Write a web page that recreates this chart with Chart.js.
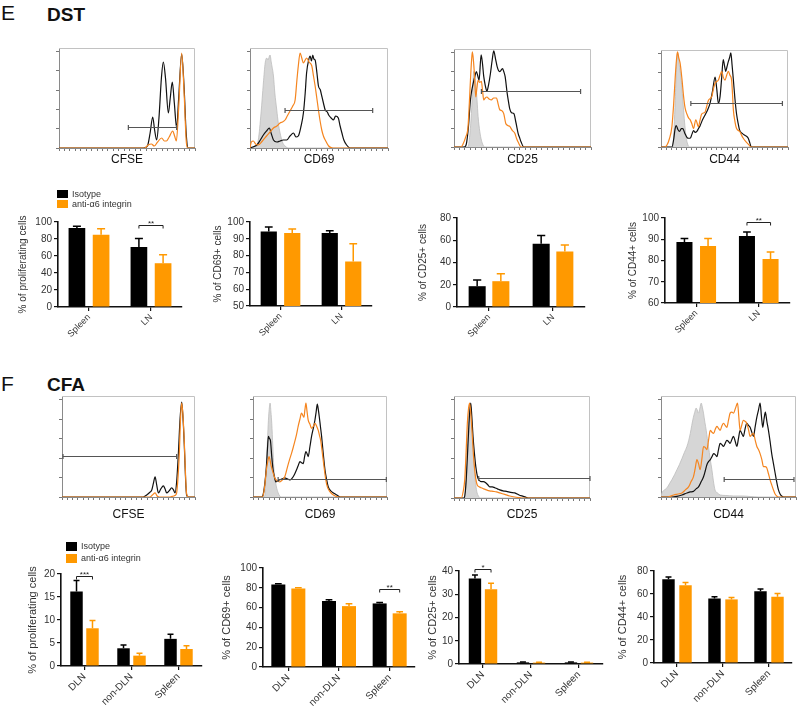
<!DOCTYPE html>
<html>
<head>
<meta charset="utf-8">
<title>DST / CFA</title>
<script src="https://cdn.jsdelivr.net/npm/chart.js@4.4.1/dist/chart.umd.min.js"></script>
<style>
  body { margin: 0; background: #fff; }
  #fig { position: relative; width: 800px; height: 707px; overflow: hidden; font-family: "Liberation Sans", Arial, sans-serif; color: #111; }
  #fig canvas, .txt, .key { position: absolute; }
  .txt { line-height: 1; white-space: nowrap; }
  .panel { font-size: 21px; }
  .model { font-size: 19px; font-weight: bold; }
  .keylab { font-size: 9px; color: #333; }
</style>
</head>
<body>
<div id="fig">
  <div class="txt panel" style="left:1px;top:2px">E</div>
  <div class="txt model" style="left:47px;top:5px">DST</div>
  <div class="txt panel" style="left:1px;top:373px">F</div>
  <div class="txt model" style="left:47px;top:375px">CFA</div>
</div>
<script>
// ---- histogram traces, [channel position, % of max] ----
// DST
const dstCfseIso = [[0,0],[62,0],[65,2],[67,15],[68.9,31],[70.3,18],[71.8,8],[73.5,30],[75.3,70],[76.7,86],[78.3,70],[80.4,35],[81.8,50],[83.3,66],[84.8,45],[86.5,20],[88,50],[90.2,94],[92,60],[93.5,15],[95,0],[100,0]];
const dstCfseAnti = [[0,0],[63,0],[65.5,3],[68,4],[70,2],[72.5,6],[75.5,10],[77.5,7],[79,7],[81,11],[83.6,17],[85,12],[86.3,7],[88,40],[90.2,95],[92,55],[93.5,8],[94.5,0],[100,0]];
const dstCfseGate = [51, 86.5, 20.7];

const dstCd69Ctrl = [[0,0],[3.6,0],[6,8],[8,35],[9.7,65],[11,85],[12.1,90],[13,88],[14.5,93],[15.5,85],[17,72],[18,55],[19.4,38],[20.5,25],[21.8,15],[23.5,6],[25.4,2],[28,0],[100,0]];
const dstCd69Iso = [[0,0],[2,1],[5,3],[7.5,8],[9.7,13],[12,17],[14,20],[15.5,14],[17,8],[19.5,6],[21.8,7],[24,8],[26.6,8],[29,12],[31.5,15],[33.3,11],[35,12],[37,22],[38.7,35],[40,55],[41,75],[42.5,88],[43.6,92],[44.5,87],[45.5,93],[46.3,89],[47.2,88],[48.5,75],[49.6,62],[51,58],[52,52],[53.2,45],[54.5,38],[56,36],[57,33],[58.8,30],[60.5,28],[62,32],[64,30],[65.3,22],[66.6,15],[68,8],[70,3],[72.6,0],[100,0]];
const dstCd69Anti = [[0,0],[1,6],[2.4,7],[4,4],[6,3],[9,7],[12,12],[14.5,16],[17,20],[19.5,22],[21.8,25],[23.5,26],[25.4,28],[27,32],[29,37],[31,42],[32.7,48],[34,68],[35,82],[36.3,95],[37.5,90],[38.7,85],[40,88],[41,90],[42.8,86],[44.8,82],[46,72],[47.2,62],[48.4,50],[49.6,38],[50.8,27],[52,18],[53.2,12],[54.5,8],[57,2],[60,0],[100,0]];
const dstCd69Gate = [25.4, 88.9, 38.3];

const dstCd25Ctrl = [[0,0],[10.2,0],[11.5,12],[12.7,34],[13.6,60],[14.4,77],[15.2,74],[15.9,65],[16.8,48],[17.6,31],[18.8,16],[20,7],[21.2,2],[22.4,0],[100,0]];
const dstCd25Iso = [[0,0],[7.5,0],[9,3],[10.5,20],[12,48],[13,58],[14,65],[15.2,72],[16.3,77],[17.3,73],[18.3,68],[19.8,94],[20.8,85],[21.7,72],[22.8,63],[24,57],[25.3,64],[26.6,75],[27.8,88],[29,98],[30.3,90],[31.5,82],[32.5,78],[33.4,77],[35.4,80],[36.3,77],[37.3,72],[38.8,55],[39.8,46],[40.7,39],[42,35],[43.7,34],[45.2,25],[46.8,14],[48,9],[49,5],[51,0],[100,0]];
const dstCd25Anti = [[0,0],[5,0],[6.6,3],[8.5,10],[10.2,20],[11.2,45],[12,68],[12.8,88],[13.4,97],[14.2,88],[15,72],[15.9,51],[16.7,60],[17.6,68],[18.8,66],[20,67],[20.8,58],[21.7,48],[22.8,50],[24,51],[25.6,49],[27.3,48],[29,50],[31,50],[32.2,44],[33.4,38],[35,37],[36.3,34],[37.8,24],[39.2,22],[40.7,21],[42.5,17],[44.4,14],[45.6,9],[46.8,5],[49,0],[100,0]];
const dstCd25Gate = [20, 92.4, 57.5];

const dstCd44Ctrl = [[0,0],[9.4,0],[10.3,20],[11.2,48],[12.1,80],[13,97],[14.3,85],[15.7,72],[16.8,55],[17.8,38],[18.8,22],[19.8,10],[21,3],[22.5,0],[100,0]];
const dstCd44Iso = [[0,0],[8.6,0],[10,8],[11,18],[12,22],[13.3,18],[14.6,16],[16,19],[17.2,19],[18.8,14],[20.4,10],[21.7,9],[23,9],[24.3,13],[25.6,17],[26.9,15],[28.2,16],[29.5,19],[30.8,22],[32.7,28],[34.7,33],[36.6,38],[38.6,45],[40.6,58],[42.6,72],[43.9,60],[45.2,45],[46.5,52],[47.7,70],[49,90],[50,84],[51,78],[52,83],[53,88],[54,92],[55,97],[56,84],[57,69],[58.2,50],[59.5,34],[60.8,24],[62,17],[64,14],[66,12],[67.4,11],[68.7,9],[70,4],[71,0],[100,0]];
const dstCd44Anti = [[0,0],[3,0],[4.7,2],[6.5,8],[8.6,21],[10,45],[11.2,72],[12.2,90],[13,98],[14,92],[15.1,86],[16.5,70],[17.8,52],[19,40],[20.4,34],[21.7,30],[23,28],[24.3,24],[25.6,19],[27.4,28],[29.5,21],[30.8,28],[32,34],[34.7,36],[36,42],[37.3,48],[40,52],[41.3,60],[42.6,66],[45.2,69],[46.5,74],[47.8,78],[49,72],[50.4,69],[51.7,74],[53,78],[54.3,74],[55.6,69],[56.3,55],[57,38],[58,28],[59.5,19],[62,16],[63.5,12],[64.8,9],[66.5,6],[68.7,3],[71,0],[100,0]];
const dstCd44Gate = [23.5, 95.6, 45.5];

// CFA
const cfaCfseIso = [[0,0],[61,0],[63.7,2],[65.5,4],[67.5,7],[68.8,14],[70,20],[71.2,12],[72.5,4],[74.3,8],[76.2,11],[77.5,8],[78.7,4],[80.5,6],[82.5,9],[83.8,7],[85,4],[86.2,15],[87.5,43],[88.8,78],[90,94],[91,78],[92,50],[93,15],[93.7,2],[95,0],[100,0]];
const cfaCfseAnti = [[0,0],[66,0],[68,2],[70,4],[71.5,1],[73,0],[81,0],[84,1],[86,3],[87,15],[88.2,43],[89.2,80],[90,93],[91,80],[92,53],[93,18],[93.7,3],[95,0],[100,0]];
const cfaCfseGate = [0.75, 86.2, 41];

const cfaCd69Ctrl = [[0,0],[8,0],[8.75,1],[9.4,15],[10,33],[10.8,56],[11.5,76],[12.1,87],[12.75,93],[13.4,84],[14,73],[14.8,50],[15.5,30],[16.5,18],[17.5,10],[18.8,4],[20,1],[21,0],[100,0]];
const cfaCd69Iso = [[0,0],[6.5,0],[7.5,2],[8.7,12],[10,30],[10.8,48],[11.5,60],[12.2,58],[13,56],[14,40],[15,27],[16,20],[17,15],[18.5,16],[20,17],[21.8,18],[23.7,19],[25.6,18],[27.5,17],[28.8,18],[30,20],[31.2,23],[32.5,27],[33.7,31],[35,35],[36.2,34],[37.5,33],[38.5,40],[39.5,45],[40.3,43],[41.2,40],[42.5,50],[43.7,60],[45,68],[46.2,76],[47.1,84],[48,92],[48.8,86],[49.5,79],[50.3,70],[51.2,60],[52.5,42],[53.7,27],[55,17],[56.2,10],[58,6],[60,4],[62.5,2],[65,0],[100,0]];
const cfaCd69Anti = [[0,0],[7,0],[8.5,8],[9.3,18],[10,27],[11,35],[12,40],[12.8,36],[13.7,30],[15,24],[16.2,19],[18,16],[20,15],[22,17],[23.7,20],[25,26],[26.2,32],[27.5,38],[28.7,43],[30,49],[31.2,55],[32.5,62],[33.7,70],[35,77],[36.2,83],[37.1,81],[38,79],[38.8,87],[39.5,93],[40.3,85],[41.2,76],[42.5,72],[43.7,68],[45,70],[46.2,73],[47.5,70],[48.7,66],[49.6,61],[50.5,56],[51.8,43],[53,30],[54.2,18],[55.5,10],[57.5,5],[60,2],[64,0],[100,0]];
const cfaCd69Gate = [18.75, 99.5, 17.7];

const cfaCd25Ctrl = [[0,0],[8,0],[8.5,12],[9,34],[10,60],[10.8,83],[11.8,93],[12.6,82],[13.5,67],[14.3,45],[15.2,24],[16,13],[17,5],[18,2],[19,0],[100,0]];
const cfaCd25Iso = [[0,0],[7.5,0],[8.3,6],[9,18],[9.9,42],[10.8,67],[11.6,85],[12.3,93],[13.1,80],[14,60],[15,44],[16,31],[16.8,24],[17.7,19],[18.8,17],[20,16],[21.6,16],[23.3,15],[24.8,13],[26.3,11],[28.2,11],[30,10],[31.9,9],[33.7,8],[36.1,7],[38.6,6.5],[41.6,5.5],[44.7,5],[47.8,3],[50.9,1.6],[52.7,0.8],[54.5,0],[100,0]];
const cfaCd25Anti = [[0,0],[5.4,0],[6.7,6],[7.9,18],[8.9,45],[9.8,73],[10.7,88],[11.5,93],[12.5,80],[13.5,60],[14.3,42],[15.2,28],[16,19],[17,13],[18.5,11],[20,10],[21.9,9],[23.8,8],[26.2,7],[28.7,6.5],[31.2,6],[33.7,5],[37.3,3.5],[41,2],[44.7,1],[48.4,0.3],[50,0],[100,0]];
const cfaCd25Gate = [18.2, 100, 19.8];

const cfaCd44Ctrl = [[0,0],[0.7,4],[2.5,7],[4.4,9],[6.2,13],[8,17],[10,22],[11.8,27],[13.6,32],[15.5,38],[17.3,44],[19.2,50],[20.5,56],[21.7,63],[22.8,71],[24,79],[25,84],[26,88],[26.9,86],[27.8,83],[28.8,88],[29.8,93],[30.6,89],[31.5,83],[32.5,74],[33.5,66],[34.3,58],[35.2,50],[36.4,38],[37.7,27],[38.8,16],[40,7],[41.9,4],[43.8,2],[48,1.5],[53.7,1],[60,1],[66,0.5],[72,0],[100,0]];
const cfaCd44Iso = [[0,0],[8,0],[11.8,0.7],[15.5,2],[19.2,4],[21.6,5],[24,5.6],[26,8],[27.8,10],[29.7,15],[31.5,20],[32.8,26],[34,32],[35.2,35],[36.5,37],[37.8,40],[39,43],[40.2,42],[41.4,40],[42.6,47],[43.8,53],[45,52],[46.3,50],[47.5,53],[48.8,56],[50,55],[51.2,53],[52.5,57],[53.7,60],[55,55],[56.2,50],[57.4,58],[58.6,66],[59.8,63],[61,60],[62.2,67],[63.5,73],[64.8,71],[66,69],[67.3,64],[68.5,60],[69.8,70],[71,79],[72.2,86],[73.4,93],[74.4,80],[75.4,69],[76.3,77],[77.3,84],[78.4,75],[79.6,66],[80.8,55],[82,43],[83.3,33],[84.5,24],[85.7,15],[87,7],[88.2,3],[89.4,1],[91,0],[100,0]];
const cfaCd44Anti = [[0,0],[5,0],[9.4,2],[12.5,3],[15.5,4],[18,7],[20.4,10],[22.2,15],[24,20],[25.3,28],[26.6,37],[27.8,33],[29,27],[30.3,38],[31.5,50],[32.8,49],[34,47],[35.2,56],[36.5,66],[37.8,64],[39,63],[40.2,67],[41.4,70],[42.6,68],[43.8,66],[45,70],[46.3,73],[47.5,71],[48.8,69],[50,76],[51.2,83],[52.5,84],[53.7,83],[55.2,88],[56.7,93],[57.6,80],[58.6,66],[59.8,71],[61,76],[62.2,75],[63.5,73],[64.8,67],[66,60],[67.3,62],[68.5,63],[69.8,56],[71,50],[72.2,47],[73.4,43],[74.7,37],[75.9,30],[77.1,30],[78.3,29],[79.6,23],[80.8,17],[82,12],[83.3,7],[84.5,3],[85.7,1],[87,0],[100,0]];
const cfaCd44Gate = [46.8, 98.5, 17.7];

// ---- bar data (mean and SEM) ----
const dstSites = ['Spleen', 'LN'];
const cfaSites = ['DLN', 'non-DLN', 'Spleen'];

const dstProlifIsoMean = [93, 70.5],   dstProlifIsoSem = [2, 10];
const dstProlifAntiMean = [85, 51.5],  dstProlifAntiSem = [7, 10];
const dstCd69IsoMean = [94.4, 93.4],   dstCd69IsoSem = [2.6, 1.4];
const dstCd69AntiMean = [93.4, 76.5],  dstCd69AntiSem = [2.4, 10.5];
const dstCd25IsoMean = [18.7, 56.8],   dstCd25IsoSem = [5.5, 7.5];
const dstCd25AntiMean = [23.2, 49.8],  dstCd25AntiSem = [6.7, 6];
const dstCd44IsoMean = [88.7, 91.5],   dstCd44IsoSem = [1.6, 1.9];
const dstCd44AntiMean = [86.8, 80.7],  dstCd44AntiSem = [3.5, 3.3];

const cfaProlifIsoMean = [16.2, 3.85, 5.9],  cfaProlifIsoSem = [2.4, 0.7, 1];
const cfaProlifAntiMean = [8.2, 2.25, 3.7],  cfaProlifAntiSem = [1.7, 0.5, 0.7];
const cfaCd69IsoMean = [83.3, 66.6, 64.2],   cfaCd69IsoSem = [0.7, 1.3, 1];
const cfaCd69AntiMean = [79.3, 61.5, 54.2],  cfaCd69AntiSem = [0.7, 2.4, 1.7];
const cfaCd25IsoMean = [36.8, 0.7, 0.7],     cfaCd25IsoSem = [1.5, 0.2, 0.2];
const cfaCd25AntiMean = [32.1, 0.6, 0.6],    cfaCd25AntiSem = [2.6, 0.2, 0.2];
const cfaCd44IsoMean = [72.8, 56.1, 62.4],   cfaCd44IsoSem = [2, 1.5, 2];
const cfaCd44AntiMean = [67.6, 55.3, 57.6],  cfaCd44AntiSem = [2.3, 1.7, 2.8];

const ORANGE = '#FF9900';
const ORANGE_LINE = '#F5851F';
const FONT = '"Liberation Sans", Arial, Helvetica, sans-serif';
Chart.defaults.font.family = FONT;

const fig = document.getElementById('fig');

function addCanvas(left, top, width, height) {
  const c = document.createElement('canvas');
  c.width = width;
  c.height = height;
  c.style.left = left + 'px';
  c.style.top = top + 'px';
  c.style.width = width + 'px';
  c.style.height = height + 'px';
  fig.appendChild(c);
  return c;
}

// light frame on top/right of the histogram plot
const boxFrame = {
  id: 'boxFrame',
  beforeDatasetsDraw(chart) {
    const { ctx, chartArea: a } = chart;
    ctx.save();
    ctx.strokeStyle = '#c2c2c2';
    ctx.lineWidth = 1;
    ctx.beginPath();
    ctx.moveTo(a.left, a.top + 0.5);
    ctx.lineTo(a.right - 0.5, a.top + 0.5);
    ctx.lineTo(a.right - 0.5, a.bottom);
    ctx.stroke();
    ctx.restore();
  }
};

// gate marker: [from, to, height]
function gateBar(span) {
  return {
    id: 'gateBar',
    afterDatasetsDraw(chart) {
      const { ctx, scales: { x, y } } = chart;
      const x0 = x.getPixelForValue(span[0]);
      const x1 = x.getPixelForValue(span[1]);
      const yy = Math.round(y.getPixelForValue(span[2])) + 0.5;
      ctx.save();
      ctx.strokeStyle = '#555';
      ctx.lineWidth = 1.2;
      ctx.beginPath();
      ctx.moveTo(x0, yy); ctx.lineTo(x1, yy);
      ctx.moveTo(x0, yy - 2.5); ctx.lineTo(x0, yy + 2.5);
      ctx.moveTo(x1, yy - 2.5); ctx.lineTo(x1, yy + 2.5);
      ctx.stroke();
      ctx.restore();
    }
  };
}

function histogram(h) {
  const padL = 4, padT = 3, padR = 3, xH = h.gap + 7;
  const [bx, by, bw, bh] = h.box;
  const canvas = addCanvas(bx - padL, by - padT, bw + padL + padR, bh + padT + xH);
  const datasets = [
    { data: h.anti, borderColor: ORANGE_LINE, borderWidth: 1.2 },
    { data: h.iso, borderColor: '#111', borderWidth: 1.2 }
  ];
  if (h.ctrl) {
    datasets.push({ data: h.ctrl, borderColor: '#bdbdbd', backgroundColor: '#d6d6d6', borderWidth: 0.8, fill: 'origin' });
  }
  new Chart(canvas, {
    type: 'line',
    data: { datasets },
    options: {
      responsive: false,
      animation: false,
      devicePixelRatio: 1,
      layout: { padding: { top: padT, right: padR, left: 0, bottom: 0 } },
      elements: { point: { radius: 0 }, line: { cubicInterpolationMode: 'monotone' } },
      plugins: { legend: { display: false }, tooltip: { enabled: false } },
      scales: {
        x: {
          type: 'linear', min: 0, max: 100,
          ticks: { display: false, stepSize: 4, includeBounds: false },
          grid: { drawOnChartArea: false, tickLength: 3, color: '#777' },
          border: { color: '#8a8a8a' },
          title: { display: true, text: h.label, font: { size: 12 }, color: '#111', padding: 0 },
          afterFit: (s) => { s.height = xH; }
        },
        y: {
          min: 0, max: 100,
          ticks: { display: false, stepSize: 19.3, includeBounds: false },
          grid: { drawOnChartArea: false, tickLength: 3, color: '#777' },
          border: { color: '#8a8a8a' },
          afterFit: (s) => { s.width = padL; }
        }
      }
    },
    plugins: [boxFrame, gateBar(h.gate)]
  });
}

// SEM whiskers (upward only)
const errorBars = {
  id: 'errorBars',
  afterDatasetsDraw(chart) {
    const { ctx } = chart;
    const yScale = chart.scales.y;
    chart.data.datasets.forEach((ds, i) => {
      chart.getDatasetMeta(i).data.forEach((bar, j) => {
        const top = yScale.getPixelForValue(ds.data[j] + ds.errors[j]);
        const half = bar.width * 0.24;
        ctx.save();
        ctx.strokeStyle = ds.backgroundColor;
        ctx.lineWidth = 1.5;
        ctx.beginPath();
        ctx.moveTo(bar.x, bar.y);
        ctx.lineTo(bar.x, top);
        ctx.moveTo(bar.x - half, top);
        ctx.lineTo(bar.x + half, top);
        ctx.stroke();
        ctx.restore();
      });
    });
  }
};

// significance bracket over one group
function sigBracket(s) {
  return {
    id: 'sigBracket',
    afterDatasetsDraw(chart) {
      const { ctx } = chart;
      const a = chart.getDatasetMeta(0).data[s.at];
      const b = chart.getDatasetMeta(1).data[s.at];
      const y = Math.round(chart.scales.y.getPixelForValue(s.value)) + 0.5;
      ctx.save();
      ctx.strokeStyle = '#222';
      ctx.lineWidth = 1;
      ctx.beginPath();
      ctx.moveTo(a.x, y + 3); ctx.lineTo(a.x, y); ctx.lineTo(b.x, y); ctx.lineTo(b.x, y + 3);
      ctx.stroke();
      ctx.fillStyle = '#222';
      ctx.font = '8px ' + FONT;
      ctx.textAlign = 'center';
      ctx.textBaseline = 'alphabetic';
      ctx.fillText(s.text, (a.x + b.x) / 2, y + 0.5);
      ctx.restore();
    }
  };
}

function barPanel(p) {
  const padT = 16, padR = 4, xH = 48;
  const W = Math.round(p.titleGap + 0.6 * p.titleSize);
  const canvas = addCanvas(p.axisX - W, p.top - padT, W + (p.right - p.axisX) + padR, padT + (p.bottom - p.top) + xH);
  new Chart(canvas, {
    type: 'bar',
    data: {
      labels: p.labels,
      datasets: [
        { label: 'Isotype', data: p.iso, errors: p.isoErr, backgroundColor: '#000' },
        { label: 'anti-α6 integrin', data: p.anti, errors: p.antiErr, backgroundColor: ORANGE }
      ]
    },
    options: {
      responsive: false,
      animation: false,
      devicePixelRatio: 1,
      layout: { padding: { top: padT, right: padR, left: 0, bottom: 0 } },
      datasets: { bar: { categoryPercentage: p.cat, barPercentage: p.bar } },
      plugins: { legend: { display: false }, tooltip: { enabled: false } },
      scales: {
        x: {
          grid: { drawOnChartArea: false, offset: false, tickLength: 4, color: '#111', lineWidth: 1.2 },
          border: { color: '#111', width: 1.6 },
          ticks: { font: { size: p.catSize }, color: '#333', minRotation: 45, maxRotation: 45, padding: 1, autoSkip: false },
          afterFit: (s) => { s.height = xH; }
        },
        y: {
          min: p.min, max: p.max,
          ticks: { stepSize: p.step, font: { size: 10 }, color: '#333', padding: 2 },
          grid: { drawOnChartArea: false, tickLength: 4, color: '#111', lineWidth: 1.2 },
          border: { color: '#111', width: 1.6 },
          title: { display: true, text: p.title, font: { size: p.titleSize }, color: '#333', padding: 0 },
          afterFit: (s) => { s.width = W; }
        }
      }
    },
    plugins: p.sig ? [errorBars, sigBracket(p.sig)] : [errorBars]
  });
}

// ---- E: DST ----
histogram({ box: [59, 48, 136, 100], gap: 12, label: 'CFSE', iso: dstCfseIso, anti: dstCfseAnti, gate: dstCfseGate });
histogram({ box: [250, 48, 138, 100], gap: 12, label: 'CD69', iso: dstCd69Iso, anti: dstCd69Anti, ctrl: dstCd69Ctrl, gate: dstCd69Gate });
histogram({ box: [454, 49, 137, 98], gap: 13, label: 'CD25', iso: dstCd25Iso, anti: dstCd25Anti, ctrl: dstCd25Ctrl, gate: dstCd25Gate });
histogram({ box: [661, 50, 127, 97], gap: 13, label: 'CD44', iso: dstCd44Iso, anti: dstCd44Anti, ctrl: dstCd44Ctrl, gate: dstCd44Gate });

barPanel({ axisX: 58, top: 222, bottom: 307, right: 182, titleGap: 35, titleSize: 10, catSize: 9, cat: 0.78, bar: 0.69,
  labels: dstSites, iso: dstProlifIsoMean, isoErr: dstProlifIsoSem, anti: dstProlifAntiMean, antiErr: dstProlifAntiSem,
  min: 0, max: 100, step: 20, title: '% of proliferating cells', sig: { at: 1, value: 96, text: '**' } });
barPanel({ axisX: 250, top: 222, bottom: 306, right: 372, titleGap: 32, titleSize: 10, catSize: 9, cat: 0.77, bar: 0.69,
  labels: dstSites, iso: dstCd69IsoMean, isoErr: dstCd69IsoSem, anti: dstCd69AntiMean, antiErr: dstCd69AntiSem,
  min: 50, max: 100, step: 10, title: '% of CD69+ cells' });
barPanel({ axisX: 457, top: 218, bottom: 307, right: 585, titleGap: 34, titleSize: 10, catSize: 9, cat: 0.74, bar: 0.72,
  labels: dstSites, iso: dstCd25IsoMean, isoErr: dstCd25IsoSem, anti: dstCd25AntiMean, antiErr: dstCd25AntiSem,
  min: 0, max: 80, step: 20, title: '% of CD25+ cells' });
barPanel({ axisX: 665, top: 218, bottom: 303, right: 790, titleGap: 32, titleSize: 10, catSize: 9, cat: 0.755, bar: 0.68,
  labels: dstSites, iso: dstCd44IsoMean, isoErr: dstCd44IsoSem, anti: dstCd44AntiMean, antiErr: dstCd44AntiSem,
  min: 60, max: 100, step: 10, title: '% of CD44+ cells', sig: { at: 1, value: 98, text: '**' } });

// ---- F: CFA ----
histogram({ box: [62, 396, 133, 101], gap: 18, label: 'CFSE', iso: cfaCfseIso, anti: cfaCfseAnti, gate: cfaCfseGate });
histogram({ box: [253, 396, 134, 101], gap: 18, label: 'CD69', iso: cfaCd69Iso, anti: cfaCd69Anti, ctrl: cfaCd69Ctrl, gate: cfaCd69Gate });
histogram({ box: [454, 396, 136, 102], gap: 17, label: 'CD25', iso: cfaCd25Iso, anti: cfaCd25Anti, ctrl: cfaCd25Ctrl, gate: cfaCd25Gate });
histogram({ box: [661, 396, 135, 101], gap: 18, label: 'CD44', iso: cfaCd44Iso, anti: cfaCd44Anti, ctrl: cfaCd44Ctrl, gate: cfaCd44Gate });

barPanel({ axisX: 61, top: 574, bottom: 666, right: 202, titleGap: 28, titleSize: 11, catSize: 10, cat: 0.68, bar: 0.78,
  labels: cfaSites, iso: cfaProlifIsoMean, isoErr: cfaProlifIsoSem, anti: cfaProlifAntiMean, antiErr: cfaProlifAntiSem,
  min: 0, max: 20, step: 5, title: '% of proliferating cells', sig: { at: 0, value: 19.5, text: '***' } });
barPanel({ axisX: 263, top: 568, bottom: 667, right: 415, titleGap: 36, titleSize: 11, catSize: 10, cat: 0.79, bar: 0.7,
  labels: cfaSites, iso: cfaCd69IsoMean, isoErr: cfaCd69IsoSem, anti: cfaCd69AntiMean, antiErr: cfaCd69AntiSem,
  min: 0, max: 100, step: 20, title: '% of CD69+ cells', sig: { at: 2, value: 79, text: '**' } });
barPanel({ axisX: 459, top: 571, bottom: 664, right: 603, titleGap: 26, titleSize: 11, catSize: 10, cat: 0.67, bar: 0.77,
  labels: cfaSites, iso: cfaCd25IsoMean, isoErr: cfaCd25IsoSem, anti: cfaCd25AntiMean, antiErr: cfaCd25AntiSem,
  min: 0, max: 40, step: 10, title: '% of CD25+ cells', sig: { at: 0, value: 41, text: '*' } });
barPanel({ axisX: 654, top: 571, bottom: 663, right: 792, titleGap: 31, titleSize: 11, catSize: 10, cat: 0.74, bar: 0.73,
  labels: cfaSites, iso: cfaCd44IsoMean, isoErr: cfaCd44IsoSem, anti: cfaCd44AntiMean, antiErr: cfaCd44AntiSem,
  min: 0, max: 80, step: 20, title: '% of CD44+ cells' });

// ---- legends ----
function legend(left, top, rowGap, boxH) {
  [['Isotype', '#000'], ['anti-α6 integrin', ORANGE]].forEach(([text, color], i) => {
    const key = document.createElement('div');
    key.className = 'key';
    key.style.cssText = `left:${left}px;top:${top + i * rowGap}px;width:11px;height:${boxH}px;background:${color}`;
    fig.appendChild(key);
    const lab = document.createElement('div');
    lab.className = 'txt keylab';
    lab.textContent = text;
    lab.style.left = (left + 15) + 'px';
    lab.style.top = (top + i * rowGap + (boxH - 9) / 2) + 'px';
    fig.appendChild(lab);
  });
}
legend(57, 190, 10, 8);
legend(66, 542, 12, 9);
</script>
</body>
</html>
